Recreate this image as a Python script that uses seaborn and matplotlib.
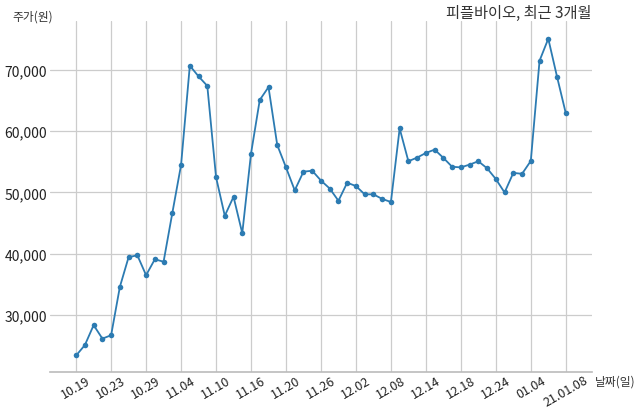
import matplotlib
matplotlib.use("Agg")
import matplotlib.pyplot as plt
import matplotlib.ticker as mticker
import seaborn as sns
import pandas as pd

# trading days, 2020-10-19 .. 2021-01-08
dates = ["10.19", "10.20", "10.21", "10.22", "10.23",
         "10.26", "10.27", "10.28", "10.29", "10.30",
         "11.02", "11.03", "11.04", "11.05", "11.06",
         "11.09", "11.10", "11.11", "11.12", "11.13",
         "11.16", "11.17", "11.18", "11.19", "11.20",
         "11.23", "11.24", "11.25", "11.26", "11.27",
         "11.30", "12.01", "12.02", "12.03", "12.04",
         "12.07", "12.08", "12.09", "12.10", "12.11",
         "12.14", "12.15", "12.16", "12.17", "12.18",
         "12.21", "12.22", "12.23", "12.24",
         "12.28", "12.29", "12.30",
         "01.04", "01.05", "01.06", "01.07", "21.01.08"]
prices = [23400, 25100, 28350, 26150, 26700,
          34600, 39450, 39750, 36500, 39100,
          38700, 46650, 54500, 70700, 68950,
          67400, 52500, 46200, 49300, 43350,
          56350, 65100, 67200, 57750, 54100,
          50350, 53400, 53550, 51950, 50650,
          48650, 51600, 51050, 49700, 49700,
          48950, 48450, 60450, 55100, 55700,
          56450, 57000, 55650, 54200, 54100,
          54550, 55100, 53950, 52200,
          50000, 53200, 53050,
          55150, 71500, 75100, 68900, 62950]
tick_labels = ["10.19", "10.23", "10.29", "11.04", "11.10", "11.16", "11.20",
               "11.26", "12.02", "12.08", "12.14", "12.18", "12.24", "01.04",
               "21.01.08"]

df = pd.DataFrame({"idx": range(len(prices)), "date": dates, "price": prices})

sns.set_theme(style="white")
plt.rcParams["font.family"] = ["Noto Sans CJK KR", "DejaVu Sans"]

fig, ax = plt.subplots(figsize=(6.4, 4.14), dpi=100)
fig.subplots_adjust(left=0.078, right=0.925, top=0.947, bottom=0.099)

sns.lineplot(data=df, x="idx", y="price", ax=ax, color="#2c7bb2",
             linewidth=1.3, marker="o", markersize=4, markeredgewidth=0)

tick_pos = [dates.index(t) for t in tick_labels]
ax.set_xticks(tick_pos)
ax.set_xticklabels(tick_labels, rotation=30, ha="center", fontsize=9,
                   color="#222222")
ax.yaxis.set_major_formatter(mticker.FuncFormatter(lambda v, p: f"{int(v):,}"))
ax.set_yticks([30000, 40000, 50000, 60000, 70000])
ax.tick_params(axis="y", labelsize=10, colors="#222222", length=0, pad=2)
ax.tick_params(axis="x", length=0, pad=1)

ax.set_xlim(-3, 59)
ax.set_ylim(20700, 78000)

ax.grid(True, color="#cccccc", linewidth=0.9)
for s in ["top", "right", "left"]:
    ax.spines[s].set_visible(False)
ax.spines["bottom"].set_color("#bbbbbb")
ax.spines["bottom"].set_linewidth(1.2)

ax.set_xlabel("")
ax.set_ylabel("")

fig.text(0.02, 0.96, "주가(원)", fontsize=8.5, color="#333333", va="center")
fig.text(0.925, 0.968, "피플바이오, 최근 3개월", fontsize=11, color="#333333",
         ha="right", va="center")
ax.text(1.005, -0.025, "날짜(일)", transform=ax.transAxes, fontsize=8.5,
        color="#333333", ha="left", va="center")

fig.savefig("out.png", dpi=100)
